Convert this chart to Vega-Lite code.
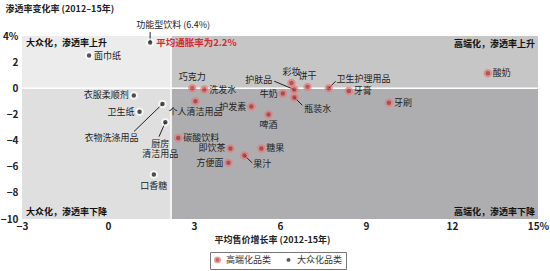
{
  "$schema": "https://vega.github.io/schema/vega-lite/v6.json",
  "width": 516,
  "height": 183,
  "autosize": "none",
  "padding": {"left": 22, "top": 36, "right": 12, "bottom": 52},
  "background": "white",
  "config": {
    "font": "Noto Sans CJK SC",
    "view": {"stroke": null},
    "axis": {"domain": false, "ticks": false, "grid": false, "labelOverlap": false, "labelFlush": false, "labelFontWeight": "bold", "labelFontSize": 10, "labelColor": "#222", "titleColor": "#222", "titleFontSize": 9, "titleFontWeight": "bold"}
  },
  "datasets": {
    "quad": [
      {"q": "TL", "x": -3, "x2": 2.2, "y": 0, "y2": 4},
      {"q": "BL", "x": -3, "x2": 2.2, "y": -10, "y2": 0},
      {"q": "TR", "x": 2.2, "x2": 15, "y": 0, "y2": 4},
      {"q": "BR", "x": 2.2, "x2": 15, "y": -10, "y2": 0}
    ],
    "pts": [
      {"name": "面巾纸", "type": "大众化品类", "x": -0.66, "y": 2.5, "pos": "r"},
      {"name": "衣服柔顺剂", "type": "大众化品类", "x": 0.9, "y": -0.55, "pos": "l"},
      {"name": "卫生纸", "type": "大众化品类", "x": 1.1, "y": -1.8, "pos": "l"},
      {"name": "衣物洗涤用品", "type": "大众化品类", "x": 1.9, "y": -1.2, "pos": "n"},
      {"name": "厨房清洁用品", "type": "大众化品类", "x": 2.0, "y": -2.6, "pos": "n"},
      {"name": "口香糖", "type": "大众化品类", "x": 1.6, "y": -6.6, "pos": "b"},
      {"name": "功能型饮料", "type": "大众化品类", "x": 1.47, "y": 3.5, "pos": "n"},
      {"name": "巧克力", "type": "高端化品类", "x": 2.94, "y": 0.0, "pos": "t"},
      {"name": "洗发水", "type": "高端化品类", "x": 3.36, "y": -0.1, "pos": "r"},
      {"name": "个人清洁用品", "type": "高端化品类", "x": 3.05, "y": -1.0, "pos": "b"},
      {"name": "护发素", "type": "高端化品类", "x": 5.0, "y": -1.4, "pos": "l"},
      {"name": "啤酒", "type": "高端化品类", "x": 5.6, "y": -2.0, "pos": "b"},
      {"name": "牛奶", "type": "高端化品类", "x": 6.1, "y": -0.4, "pos": "l"},
      {"name": "彩妆", "type": "高端化品类", "x": 6.4, "y": 0.4, "pos": "t"},
      {"name": "护肤品", "type": "高端化品类", "x": 6.5, "y": -0.1, "pos": "n"},
      {"name": "瓶装水", "type": "高端化品类", "x": 6.5, "y": -0.7, "pos": "n"},
      {"name": "饼干", "type": "高端化品类", "x": 6.96, "y": 0.1, "pos": "t"},
      {"name": "卫生护理用品", "type": "高端化品类", "x": 7.7, "y": 0.0, "pos": "n"},
      {"name": "牙膏", "type": "高端化品类", "x": 8.4, "y": -0.2, "pos": "r"},
      {"name": "牙刷", "type": "高端化品类", "x": 9.8, "y": -1.1, "pos": "r"},
      {"name": "酸奶", "type": "高端化品类", "x": 13.25, "y": 1.15, "pos": "r"},
      {"name": "碳酸饮料", "type": "高端化品类", "x": 2.45, "y": -3.8, "pos": "r"},
      {"name": "即饮茶", "type": "高端化品类", "x": 4.27, "y": -4.6, "pos": "l"},
      {"name": "糖果", "type": "高端化品类", "x": 5.35, "y": -4.6, "pos": "r"},
      {"name": "果汁", "type": "高端化品类", "x": 4.76, "y": -5.15, "pos": "n"},
      {"name": "方便面", "type": "高端化品类", "x": 4.2, "y": -5.7, "pos": "l"}
    ],
    "leaders": [
      {"label": "衣物洗涤用品", "x": 1.9, "y": -1.2, "x2": 0.91, "y2": -3.3, "lx": 0.12, "ly": -3.8, "side": "c"},
      {"label": "功能型饮料 (6.4%)", "x": 1.47, "y": 3.5, "x2": 1.47, "y2": 4.3, "lx": 2.27, "ly": 4.85, "side": "c"},
      {"label": "护肤品", "x": 6.5, "y": -0.1, "x2": 5.8, "y2": 0.54, "lx": 5.73, "ly": 0.6, "side": "r"},
      {"label": "瓶装水", "x": 6.5, "y": -0.7, "x2": 6.78, "y2": -1.3, "lx": 6.85, "ly": -1.55, "side": "l"},
      {"label": "卫生护理用品", "x": 7.7, "y": 0.0, "x2": 7.94, "y2": 0.54, "lx": 7.97, "ly": 0.7, "side": "l"},
      {"label": "果汁", "x": 4.76, "y": -5.15, "x2": 5.03, "y2": -5.7, "lx": 5.07, "ly": -5.77, "side": "l"}
    ],
    "kitchen": [
      {"label": ["厨房", "清洁用品"], "x": 2.0, "y": -2.6, "x2": 1.78, "y2": -3.7, "lx": 1.82, "ly": -3.95}
    ],
    "quadlabels": [
      {"label": "大众化，渗透率上升", "x": -3, "y": 3.45, "side": "left"},
      {"label": "大众化，渗透率下降", "x": -3, "y": -9.45, "side": "left"},
      {"label": "高端化，渗透率上升", "x": 15, "y": 3.4, "side": "right"},
      {"label": "高端化，渗透率下降", "x": 15, "y": -9.45, "side": "right"}
    ]
  },
  "layer": [
    {
      "data": {"name": "quad"},
      "mark": {"type": "rect"},
      "encoding": {
        "x": {"field": "x", "type": "quantitative", "scale": {"domain": [-3, 15], "nice": false, "zero": false},
              "axis": {"values": [-3, 0, 3, 6, 9, 12, 15], "tickCount": 10, "labelExpr": "datum.value == 15 ? '15%' : datum.label", "labelPadding": 2,
                       "title": "平均售价增长率 (2012-15年)", "titleBaseline": "middle", "titleY": 20, "titleX": 250}},
        "x2": {"field": "x2"},
        "y": {"field": "y", "type": "quantitative", "scale": {"domain": [-10, 4], "nice": false, "zero": false},
              "axis": {"values": [-10, -8, -6, -4, -2, 0, 2, 4], "tickCount": 10, "labelExpr": "datum.value == 4 ? '4%' : datum.label", "labelPadding": 4,
                       "title": "渗透率变化率 (2012–15年)", "titleAngle": 0, "titleAlign": "left", "titleBaseline": "middle", "titleX": -17, "titleY": -28}},
        "y2": {"field": "y2"},
        "fill": {"field": "q", "type": "nominal", "legend": null,
                 "scale": {"domain": ["TL", "BL", "TR", "BR"], "range": ["#ececec", "#dfdfdf", "#c6c6c6", "#aeaeb1"]}}
      }
    },
    {
      "data": {"values": [{"v": 2.2}]},
      "mark": {"type": "rule", "color": "white", "strokeWidth": 1.5},
      "encoding": {"x": {"field": "v", "type": "quantitative"}}
    },
    {
      "data": {"values": [{"v": 0}]},
      "mark": {"type": "rule", "color": "white", "strokeWidth": 1.5},
      "encoding": {"y": {"field": "v", "type": "quantitative"}}
    },
    {
      "data": {"name": "leaders"},
      "mark": {"type": "rule", "color": "#222", "strokeWidth": 1},
      "encoding": {
        "x": {"field": "x", "type": "quantitative"}, "y": {"field": "y", "type": "quantitative"},
        "x2": {"field": "x2"}, "y2": {"field": "y2"}
      }
    },
    {
      "data": {"name": "kitchen"},
      "mark": {"type": "rule", "color": "#222", "strokeWidth": 1},
      "encoding": {
        "x": {"field": "x", "type": "quantitative"}, "y": {"field": "y", "type": "quantitative"},
        "x2": {"field": "x2"}, "y2": {"field": "y2"}
      }
    },
    {
      "data": {"name": "pts"},
      "mark": {"type": "point", "filled": true, "shape": "circle", "size": 42, "strokeWidth": 2},
      "encoding": {
        "x": {"field": "x", "type": "quantitative"},
        "y": {"field": "y", "type": "quantitative"},
        "color": {"field": "type", "type": "nominal",
                  "scale": {"domain": ["高端化品类", "大众化品类"], "range": ["#a8262b", "#111111"]},
                  "legend": {"title": null, "orient": "none", "legendX": 188, "legendY": 216, "direction": "horizontal",
                             "strokeColor": "#777", "cornerRadius": 0, "padding": 3, "symbolSize": 30, "labelFontSize": 9, "labelColor": "#333",
                             "columnPadding": 10, "symbolType": "circle"}},
        "stroke": {"field": "type", "type": "nominal", "legend": null,
                   "scale": {"domain": ["高端化品类", "大众化品类"], "range": ["#e87a7a", "#ffffff"]}}
      }
    },
    {
      "data": {"name": "pts"},
      "transform": [{"filter": "datum.pos == 'r'"}],
      "mark": {"type": "text", "align": "left", "baseline": "middle", "dx": 5, "fontSize": 9, "color": "#222"},
      "encoding": {"x": {"field": "x", "type": "quantitative"}, "y": {"field": "y", "type": "quantitative"}, "text": {"field": "name"}}
    },
    {
      "data": {"name": "pts"},
      "transform": [{"filter": "datum.pos == 'l'"}],
      "mark": {"type": "text", "align": "right", "baseline": "middle", "dx": -5, "fontSize": 9, "color": "#222"},
      "encoding": {"x": {"field": "x", "type": "quantitative"}, "y": {"field": "y", "type": "quantitative"}, "text": {"field": "name"}}
    },
    {
      "data": {"name": "pts"},
      "transform": [{"filter": "datum.pos == 't'"}],
      "mark": {"type": "text", "align": "center", "baseline": "middle", "dy": -11, "fontSize": 9, "color": "#222"},
      "encoding": {"x": {"field": "x", "type": "quantitative"}, "y": {"field": "y", "type": "quantitative"}, "text": {"field": "name"}}
    },
    {
      "data": {"name": "pts"},
      "transform": [{"filter": "datum.pos == 'b'"}],
      "mark": {"type": "text", "align": "center", "baseline": "middle", "dy": 11, "fontSize": 9, "color": "#222"},
      "encoding": {"x": {"field": "x", "type": "quantitative"}, "y": {"field": "y", "type": "quantitative"}, "text": {"field": "name"}}
    },
    {
      "data": {"name": "leaders"},
      "transform": [{"filter": "datum.side == 'c'"}],
      "mark": {"type": "text", "align": "center", "baseline": "middle", "fontSize": 9, "color": "#222"},
      "encoding": {"x": {"field": "lx", "type": "quantitative"}, "y": {"field": "ly", "type": "quantitative"}, "text": {"field": "label"}}
    },
    {
      "data": {"name": "leaders"},
      "transform": [{"filter": "datum.side == 'l'"}],
      "mark": {"type": "text", "align": "left", "baseline": "middle", "fontSize": 9, "color": "#222"},
      "encoding": {"x": {"field": "lx", "type": "quantitative"}, "y": {"field": "ly", "type": "quantitative"}, "text": {"field": "label"}}
    },
    {
      "data": {"name": "leaders"},
      "transform": [{"filter": "datum.side == 'r'"}],
      "mark": {"type": "text", "align": "right", "baseline": "middle", "fontSize": 9, "color": "#222"},
      "encoding": {"x": {"field": "lx", "type": "quantitative"}, "y": {"field": "ly", "type": "quantitative"}, "text": {"field": "label"}}
    },
    {
      "data": {"name": "kitchen"},
      "mark": {"type": "text", "align": "center", "baseline": "top", "fontSize": 9, "lineHeight": 10, "color": "#222"},
      "encoding": {"x": {"field": "lx", "type": "quantitative"}, "y": {"field": "ly", "type": "quantitative"}, "text": {"field": "label"}}
    },
    {
      "data": {"values": [{"label": "平均通胀率为2.2%", "x": 1.68, "y": 3.5}]},
      "mark": {"type": "text", "align": "left", "baseline": "middle", "fontSize": 9.5, "fontWeight": "bold", "color": "#d42a30"},
      "encoding": {"x": {"field": "x", "type": "quantitative"}, "y": {"field": "y", "type": "quantitative"}, "text": {"field": "label"}}
    },
    {
      "data": {"name": "quadlabels"},
      "transform": [{"filter": "datum.side == 'left'"}],
      "mark": {"type": "text", "align": "left", "baseline": "middle", "dx": 4, "fontSize": 9, "fontWeight": "bold", "color": "#111"},
      "encoding": {"x": {"field": "x", "type": "quantitative"}, "y": {"field": "y", "type": "quantitative"}, "text": {"field": "label"}}
    },
    {
      "data": {"name": "quadlabels"},
      "transform": [{"filter": "datum.side == 'right'"}],
      "mark": {"type": "text", "align": "right", "baseline": "middle", "dx": -3, "fontSize": 9, "fontWeight": "bold", "color": "#111"},
      "encoding": {"x": {"field": "x", "type": "quantitative"}, "y": {"field": "y", "type": "quantitative"}, "text": {"field": "label"}}
    }
  ],
  "resolve": {"scale": {"fill": "independent", "color": "independent", "stroke": "independent"}}
}
